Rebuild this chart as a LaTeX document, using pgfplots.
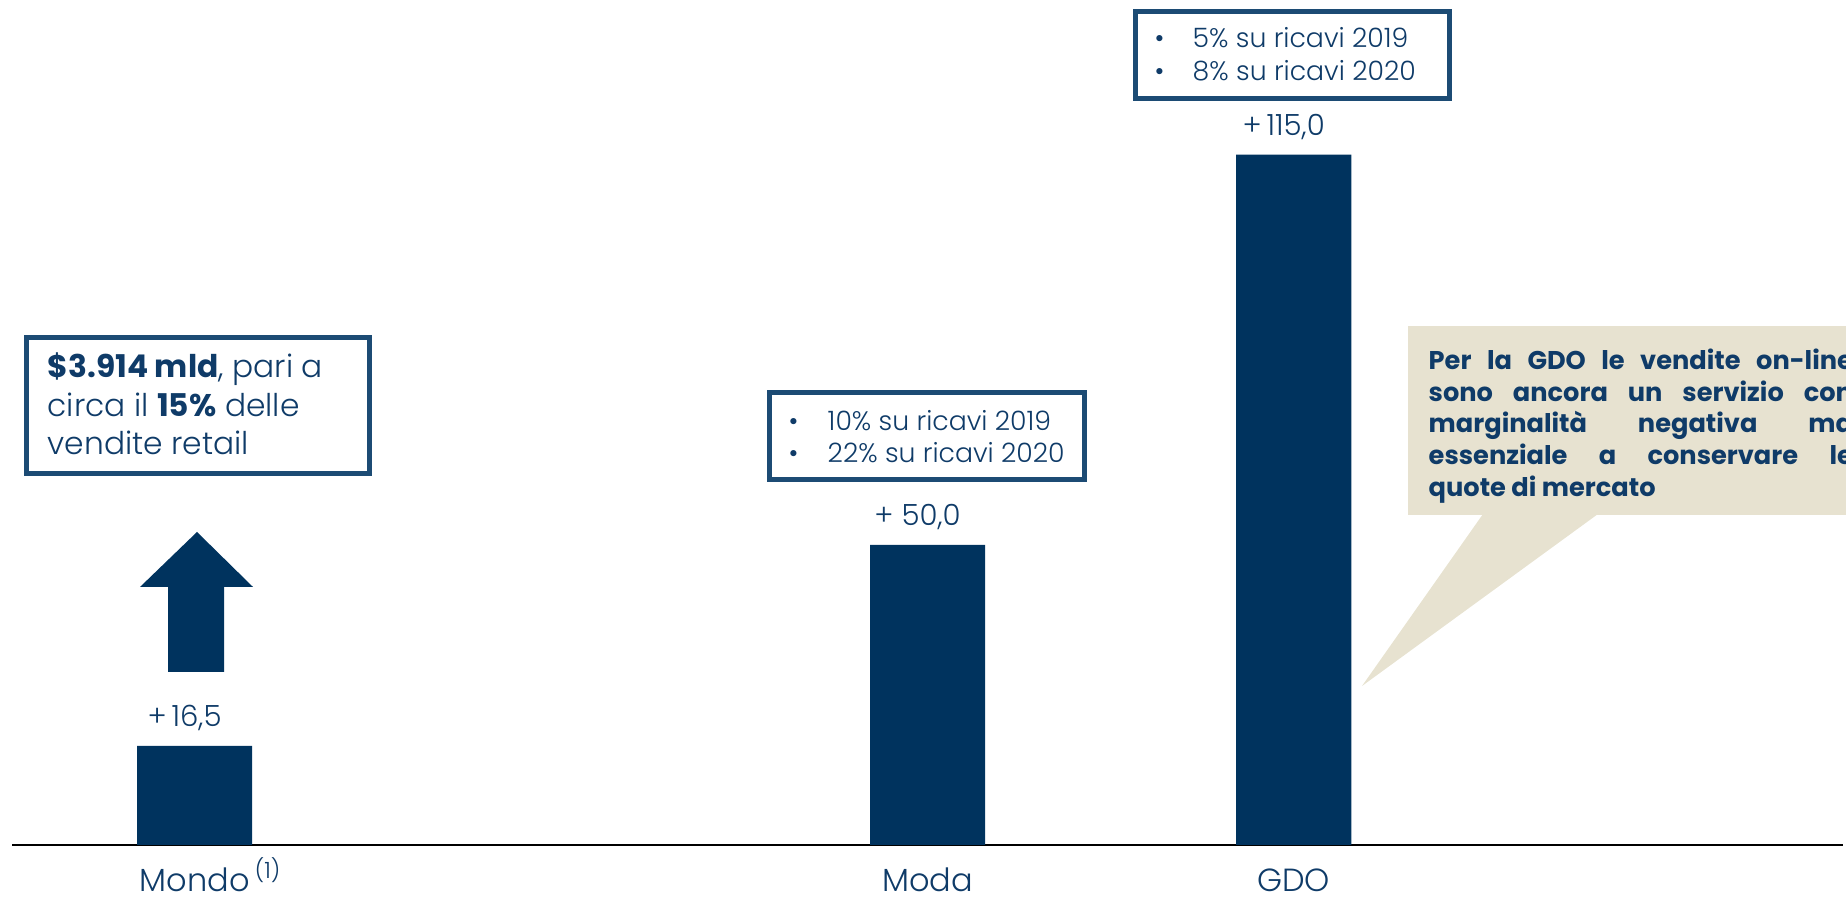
\documentclass[border=0pt]{standalone}
\usepackage{pgfplots}
\pgfplotsset{compat=1.18}
\usepackage{fontspec}
\IfFontExistsTF{Poppins Light}{\setmainfont{Poppins Light}[BoldFont=Poppins Bold]}{\setmainfont{Poppins}}
\definecolor{barblue}{HTML}{00335E}
\definecolor{txtblue}{HTML}{0F3B68}
\definecolor{boxblue}{HTML}{1C4B74}
\definecolor{beige}{HTML}{E7E2D0}
\newcommand{\fs}[1]{\fontsize{#1}{#1}\selectfont}
\begin{document}
\begin{tikzpicture}[x=0.01cm,y=0.01cm]
\path[use as bounding box] (0,0) rectangle (1846,901);
\clip (0,0) rectangle (1846,901);
% callout
\fill[beige] (1408,386) rectangle (1900,575);
\fill[beige] (1483,387) -- (1362,215) -- (1598,387) -- cycle;
\begin{axis}[at={(0.12cm,0.56cm)}, anchor=south west, scale only axis,
  width=18.30cm, height=8.4cm, xmin=12, xmax=1842, ymin=0, ymax=140,
  axis x line=bottom, axis y line=none,
  axis line style={-, black, line width=0.5pt},
  xtick={194.5,927,1293},
  xticklabels={Mondo\rlap{\,\textsuperscript{(1)}}, Moda, GDO},
  major tick length=0pt,
  xticklabel style={anchor=base, inner sep=0pt, yshift=-0.47cm, font=\fs{9.1pt}, text=txtblue},
  ybar, bar width=1.15cm,
  point meta=explicit symbolic,
  nodes near coords,
  every node near coord/.append style={anchor=base, inner sep=0pt, yshift=0.19cm, xshift=-0.1cm, font=\fs{8.3pt}, text=txtblue},
  clip=false]
\addplot[fill=barblue, draw=none] coordinates {(194.5,16.5) [+\,16,5] (927,50) [+ 50,0] (1293,115) [+\,115,0]};
\end{axis}
% arrow
\fill[barblue] (140,314) -- (197,369) -- (253,314) -- (224,314) -- (224,229) -- (168,229) -- (168,314) -- cycle;
% box 1
\draw[boxblue, line width=0.05cm] (26.5,563.5) rectangle (369.5,427.5);
\begin{scope}[every node/.style={anchor=base west, inner sep=0pt, text=txtblue, font=\fs{8.9pt}}]
\node at (47,523) {\textbf{\$3.914 mld}, pari a};
\node at (47,484) {circa il \textbf{15\%} delle};
\node at (47,446) {vendite retail};
\end{scope}
% box 2
\draw[boxblue, line width=0.045cm] (769.5,508.5) rectangle (1084.5,421.5);
% box 3
\draw[boxblue, line width=0.045cm] (1135.5,889.5) rectangle (1449.5,802.5);
\begin{scope}[every node/.style={anchor=base west, inner sep=0pt, text=txtblue, font=\fs{7.6pt}}]
\node at (788,470) {•};
\node at (827,470) {10\% su ricavi 2019};
\node at (788,438) {•};
\node at (827,438) {22\% su ricavi 2020};
\node at (1154,853) {•};
\node at (1192,853) {5\% su ricavi 2019};
\node at (1154,820) {•};
\node at (1192,820) {8\% su ricavi 2020};
\end{scope}
% callout text
\begin{scope}[every node/.style={anchor=base west, inner sep=0pt, text=txtblue, font=\bfseries\fs{7.3pt}}]
\node at (1428,531) {\makebox[4.24cm][s]{Per la GDO le vendite on-line}};
\node at (1428,499) {\makebox[4.24cm][s]{sono ancora un servizio con}};
\node at (1428,468) {\makebox[4.24cm][s]{marginalità negativa ma}};
\node at (1428,436) {\makebox[4.24cm][s]{essenziale a conservare le}};
\node at (1428,404) {quote di mercato};
\end{scope}
\end{tikzpicture}
\end{document}
